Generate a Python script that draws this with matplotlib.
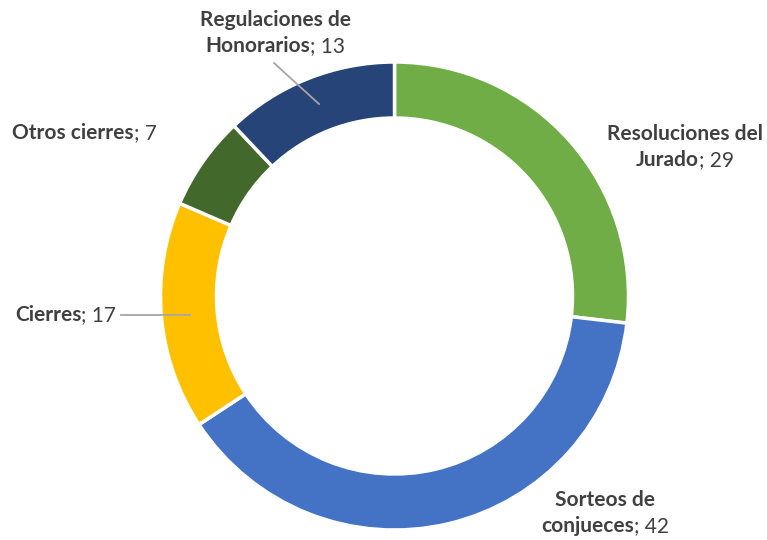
import matplotlib
matplotlib.use('Agg')
import matplotlib.pyplot as plt

# data
categories = ['Resoluciones del Jurado', 'Sorteos de conjueces', 'Cierres',
              'Otros cierres', 'Regulaciones de Honorarios']
values = [29, 42, 17, 7, 13]
colors = ['#70AD47', '#4472C4', '#FFC000', '#43682B', '#264478']

W, H = 767, 540
FONT = 'Lato'
FS = 15
TXT = '#404040'

fig = plt.figure(figsize=(W / 100, H / 100), dpi=100)
ax = fig.add_axes([0, 0, 1, 1])
ax.set_xlim(0, W)
ax.set_ylim(0, H)
ax.axis('off')

cx, cy, R = 394.5, H - 296, 234
ax.pie(values, colors=colors, startangle=90, counterclock=False,
       center=(cx, cy), radius=R,
       wedgeprops=dict(width=56, edgecolor='white', linewidth=2.5))
ax.set_xlim(0, W)
ax.set_ylim(0, H)
ax.set_aspect('equal')

renderer = fig.canvas.get_renderer()


def text_width(s, weight):
    t = ax.text(0, 0, s, fontsize=FS, family=FONT, fontweight=weight)
    w = t.get_window_extent(renderer).width
    t.remove()
    return w


def rich_line(x, y, bold, regular, ha):
    # one line: bold name followed by regular '; value'
    wb = text_width(bold, 'bold') if bold else 0
    wr = text_width(regular, 'normal') if regular else 0
    total = wb + wr
    if ha == 'center':
        x0 = x - total / 2
    elif ha == 'right':
        x0 = x - total
    else:
        x0 = x
    if bold:
        ax.text(x0, y, bold, fontsize=FS, family=FONT, fontweight='bold',
                color=TXT, ha='left', va='center')
    if regular:
        ax.text(x0 + wb, y, regular, fontsize=FS, family=FONT,
                color=TXT, ha='left', va='center')


def label(lines, x, ytop, ha='center', gap=26):
    # lines: list of (bold, regular)
    for i, (b, r) in enumerate(lines):
        rich_line(x, H - (ytop + i * gap), b, r, ha)


label([('Regulaciones de', ''), ('Honorarios', '; %d' % values[4])], 275, 20)
label([('Otros cierres', '; %d' % values[3])], 12, 133, ha='left')
label([('Resoluciones del', ''), ('Jurado', '; %d' % values[0])], 685, 134)
label([('Cierres', '; %d' % values[2])], 15, 315, ha='left')
label([('Sorteos de', ''), ('conjueces', '; %d' % values[1])], 605, 500)

# leader lines
ax.plot([274, 319], [H - 63, H - 104], color='#A6A6A6', lw=1.3)
ax.plot([121, 190], [H - 315, H - 315], color='#A6A6A6', lw=1.3)

fig.savefig('out.png', dpi=100)
